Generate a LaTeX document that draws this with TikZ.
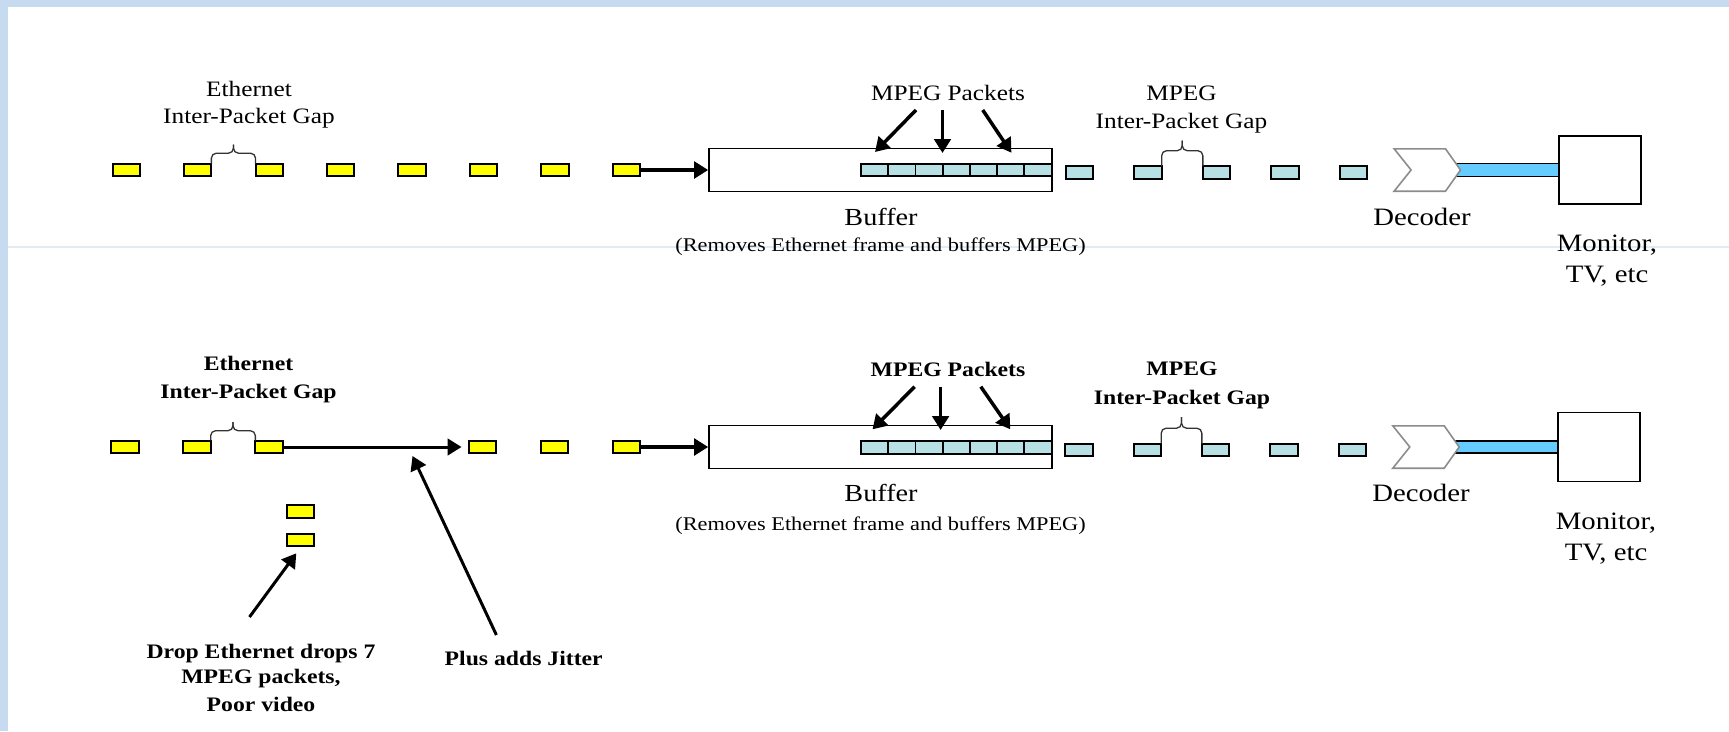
\documentclass[tikz,border=0pt]{standalone}
\usepackage{fontspec}
\setmainfont{Liberation Serif}[FakeStretch=1.15]
\usetikzlibrary{arrows.meta,calc,backgrounds}
\definecolor{ethyellow}{RGB}{255,255,0}
\definecolor{mpegcyan}{RGB}{183,224,228}
\definecolor{barblue}{RGB}{102,204,255}
\definecolor{framebg}{RGB}{198,219,239}
\definecolor{rulefaint}{RGB}{226,234,244}
\definecolor{decgray}{RGB}{140,140,140}
\tikzset{
  pkt/.style={draw=black, line width=1.9pt, minimum width=27.3pt, minimum height=12.6pt, inner sep=0pt, outer sep=0pt},
  ethpkt/.style={pkt, fill=ethyellow},
  mpgpkt/.style={pkt, fill=mpegcyan},
  cell/.style={pkt, fill=mpegcyan, minimum width=27.23pt},
  bufbox/.style={draw=black, line width=1.6pt, fill=white, minimum width=343pt, minimum height=43pt, inner sep=0pt},
  monbox/.style={draw=black, line width=1.6pt, fill=white, minimum width=82pt, minimum height=68pt, inner sep=0pt},
  decslot/.style={minimum width=66pt, minimum height=42pt, inner sep=0pt},
  chevron/.style={draw=decgray, line width=1.6pt, fill=white},
  arr/.style={-{Triangle[length=14pt,width=16.5pt]}, line width=3.5pt},
  gapbrace/.style={draw=black!80, line width=1.3pt, rounded corners=5pt},
  txt/.style={inner sep=0pt, anchor=base, text=black},
  lbl/.style={txt, font=\fontsize{22}{26}\selectfont},
  lblb/.style={txt, font=\fontsize{20.6}{25}\selectfont\bfseries},
  big/.style={txt, font=\fontsize{25}{30}\selectfont},
  note/.style={txt, font=\fontsize{19.4}{23}\selectfont},
}
\begin{document}
\begin{tikzpicture}[x=1pt,y=-1pt]
\useasboundingbox (0,0) rectangle (1729,731);
% page, frame strips and faint rule
\begin{scope}[on background layer]
  \fill[white] (0,0) rectangle (1729,731);
  \fill[framebg] (0,0) rectangle (8,731);
  \fill[framebg] (0,0) rectangle (1729,7);
  \draw[rulefaint, line width=1.2pt] (8,247) -- (1729,247);
\end{scope}

% ================= upper chain =================
\foreach \i/\x in {1/126.3,2/197.7,3/269.2,4/340.6,5/412,6/483.5,7/554.9,8/626.3}
  \node[ethpkt] (t\i) at (\x,170) {};
\node[bufbox] (tbuf) at (880.5,170) {};
\foreach \k in {0,...,6}
  \node[cell] (tc\k) at ({874.6+27.23*\k},170) {};
\foreach \k/\x in {1/1079.5,2/1148,3/1216.5,4/1285,5/1353.5}
  \node[mpgpkt] (tm\k) at (\x,172.5) {};
\node[decslot] (tdec) at (1427.3,170) {};
\node[monbox] (tmon) at (1600,170) {};
\begin{scope}[on background layer]
  \draw[line width=14pt] (tdec.center) -- (tmon.west);
  \draw[barblue, line width=11.2pt] (tdec.center) -- (tmon.west);
\end{scope}
\draw[chevron] (tdec.north west) -- ([xshift=-15pt]tdec.north east) -- (tdec.east)
  -- ([xshift=-15pt]tdec.south east) -- (tdec.south west) -- ([xshift=17pt]tdec.west) -- cycle;

\draw[arr] (t8.east) -- (tbuf.west);

\draw[gapbrace] (t2.north east) |- ($(t2.north east)!.5!(t3.north west)+(0,-10.5)$) -- ++(0,-8.5);
\draw[gapbrace] (t3.north west) |- ($(t2.north east)!.5!(t3.north west)+(0,-10.5)$) -- ++(0,-8.5);
\draw[gapbrace] (tm2.north east) |- ($(tm2.north east)!.5!(tm3.north west)+(0,-15.5)$) -- ++(0,-10);
\draw[gapbrace] (tm3.north west) |- ($(tm2.north east)!.5!(tm3.north west)+(0,-15.5)$) -- ++(0,-10);

\node[lbl] (tethA) at (249,96.7) {Ethernet};
\node[lbl] (tethB) at (249,123.3) {Inter-Packet Gap};
\node[lbl] (tmp) at (948,100) {MPEG Packets};
\node[lbl] (tmgA) at (1181.5,100) {MPEG};
\node[lbl] (tmgB) at (1181.5,128.3) {Inter-Packet Gap};
\node[big, font=\fontsize{24.5}{30}\selectfont] (tbufl) at (881,225.7) {Buffer};
\node[note] (tbufn) at (880.5,251.7) {(Removes Ethernet frame and buffers MPEG)};
\node[big] (tdecl) at (1422,225.7) {Decoder};
\node[big] (tmonA) at (1607,251.7) {Monitor,};
\node[big] (tmonB) at (1607,282.7) {TV, etc};

\coordinate (tpa1) at (916,110);   \coordinate (tpb1) at (875,152);
\coordinate (tpa2) at (942.5,110); \coordinate (tpb2) at (942.5,153);
\coordinate (tpa3) at (982.7,110); \coordinate (tpb3) at (1011.4,152.7);
\foreach \k in {1,2,3} \draw[arr] (tpa\k) -- (tpb\k);

% ================= lower chain =================
\foreach \i/\x in {1/125,2/197,3/269,6/482.2,7/554.7,8/626.3}
  \node[ethpkt] (b\i) at (\x,447) {};
\node[ethpkt] (d1) at (300.3,511.5) {};
\node[ethpkt] (d2) at (300.3,540) {};
\node[bufbox] (bbuf) at (880.5,447) {};
\foreach \k in {0,...,6}
  \node[cell] (bc\k) at ({874.6+27.23*\k},447.7) {};
\foreach \k/\x in {1/1079,2/1147.5,3/1215.5,4/1284,5/1352.5}
  \node[mpgpkt] (bm\k) at (\x,450) {};
\node[decslot] (bdec) at (1426,447) {};
\node[monbox, minimum height=69pt] (bmon) at (1599,447) {};
\begin{scope}[on background layer]
  \draw[line width=13.5pt] (bdec.center) -- (bmon.west);
  \draw[barblue, line width=10.8pt] (bdec.center) -- (bmon.west);
\end{scope}
\draw[chevron] (bdec.north west) -- ([xshift=-15pt]bdec.north east) -- (bdec.east)
  -- ([xshift=-15pt]bdec.south east) -- (bdec.south west) -- ([xshift=17pt]bdec.west) -- cycle;

\draw[arr] (b8.east) -- (bbuf.west);
\draw[arr, line width=3pt] (b3.east) -- ([xshift=-7pt]b6.west);

\draw[gapbrace] (b2.north east) |- ($(b2.north east)!.5!(b3.north west)+(0,-10)$) -- ++(0,-8.5);
\draw[gapbrace] (b3.north west) |- ($(b2.north east)!.5!(b3.north west)+(0,-10)$) -- ++(0,-8.5);
\draw[gapbrace] (bm2.north east) |- ($(bm2.north east)!.5!(bm3.north west)+(0,-15.5)$) -- ++(0,-11);
\draw[gapbrace] (bm3.north west) |- ($(bm2.north east)!.5!(bm3.north west)+(0,-15.5)$) -- ++(0,-11);

\node[lblb] (bethA) at (248.5,370.7) {Ethernet};
\node[lblb] (bethB) at (248.5,398.3) {Inter-Packet Gap};
\node[lblb] (bmp) at (948,376.7) {MPEG Packets};
\node[lblb] (bmgA) at (1182,375.7) {MPEG};
\node[lblb] (bmgB) at (1182,404) {Inter-Packet Gap};
\node[big, font=\fontsize{24.5}{30}\selectfont] (bbufl) at (881,501.7) {Buffer};
\node[note] (bbufn) at (880.5,530) {(Removes Ethernet frame and buffers MPEG)};
\node[big] (bdecl) at (1421,501.7) {Decoder};
\node[big] (bmonA) at (1606,529.3) {Monitor,};
\node[big] (bmonB) at (1606,560.7) {TV, etc};

\node[lblb] (dropA) at (261,658.3) {Drop Ethernet drops 7};
\node[lblb] (dropB) at (261,683.3) {MPEG packets,};
\node[lblb] (dropC) at (261,711.7) {Poor video};
\node[lblb] (jit) at (523.7,665) {Plus adds Jitter};

\coordinate (bpa1) at (914.6,386.7); \coordinate (bpb1) at (872.5,429.3);
\coordinate (bpa2) at (940.6,386.7); \coordinate (bpb2) at (940.6,430);
\coordinate (bpa3) at (980.8,386.7); \coordinate (bpb3) at (1010.3,429.3);
\foreach \k in {1,2,3} \draw[arr] (bpa\k) -- (bpb\k);

\coordinate (dropTail) at (249.5,617);
\draw[arr, line width=3pt] (dropTail) -- ([xshift=-4pt,yshift=-7pt]d2.south);
\coordinate (jitTail) at (496.4,635);
\coordinate (jitHead) at (412.5,456);
\draw[arr, line width=3pt] (jitTail) -- (jitHead);
\end{tikzpicture}
\end{document}
